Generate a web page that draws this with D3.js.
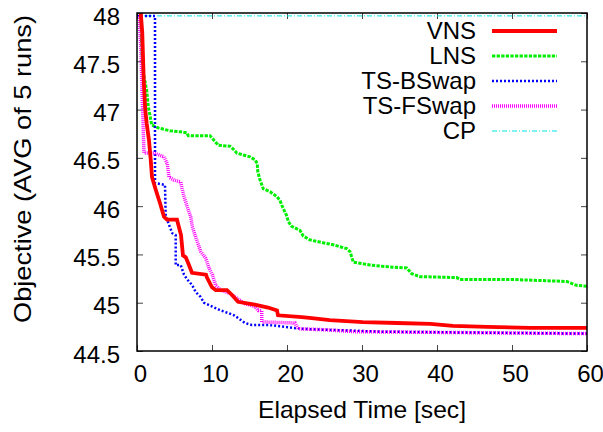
<!DOCTYPE html>
<html>
<head>
<meta charset="utf-8">
<script src="https://cdn.jsdelivr.net/npm/d3@7"></script>
<style>
  body { margin: 0; background: #fff; }
  text { font-family: "Liberation Sans", Arial, sans-serif; fill: #000; }
</style>
</head>
<body>
<svg id="chart" width="603" height="432"></svg>
<script>
// data: [elapsed seconds, objective]
const seriesNames = ["VNS", "LNS", "TS-BSwap", "TS-FSwap", "CP"];
const xTicks = [0, 10, 20, 30, 40, 50, 60];
const yTicks = [44.5, 45, 45.5, 46, 46.5, 47, 47.5, 48];

const vns = [
  [0.5, 48], [0.7, 47.8], [0.9, 47.3], [1.1, 47.0], [1.3, 46.85], [1.6, 46.68],
  [1.83, 46.48], [2.0, 46.3], [2.5, 46.17], [3.07, 46.03], [3.6, 45.89], [4.0, 45.86],
  [5.33, 45.86], [5.87, 45.7], [6.13, 45.49], [6.5, 45.47], [6.93, 45.39], [7.33, 45.31],
  [9.2, 45.29], [9.33, 45.26], [10.0, 45.16], [10.5, 45.13], [12.0, 45.13], [12.67, 45.08],
  [13.47, 45.01], [15.7, 44.98], [17.47, 44.95], [18.67, 44.92], [18.8, 44.87], [22.0, 44.85],
  [23.3, 44.84], [25.7, 44.82], [30.1, 44.8], [34.7, 44.79], [39.1, 44.78], [42.1, 44.76],
  [46.7, 44.75], [52.4, 44.74], [60, 44.74]
];

const lns = [
  [0.5, 47.97], [0.63, 47.62], [0.84, 47.38], [1.29, 47.2], [1.51, 47.03], [1.73, 46.94],
  [1.96, 46.84], [2.84, 46.81], [4.4, 46.78], [5.73, 46.77], [6.63, 46.76], [6.84, 46.73],
  [9.73, 46.73], [10.17, 46.69], [10.84, 46.63], [12.4, 46.62], [12.84, 46.59], [13.3, 46.55],
  [14.17, 46.53], [15.07, 46.51], [15.73, 46.48], [16.04, 46.44], [16.1, 46.36], [16.4, 46.27],
  [16.84, 46.18], [17.73, 46.15], [18.63, 46.1], [19.07, 46.06], [19.3, 46.01], [19.96, 45.9],
  [20.17, 45.84], [20.63, 45.79], [21.73, 45.75], [22.17, 45.69], [23.07, 45.65], [24.84, 45.62],
  [26.17, 45.6], [27.96, 45.56], [28.4, 45.53], [28.84, 45.42], [31.07, 45.39], [33.73, 45.37],
  [35.96, 45.36], [36.63, 45.3], [37.73, 45.27], [42.63, 45.26], [43.07, 45.24], [50.17, 45.24],
  [57.3, 45.22], [58.6, 45.18], [60, 45.17]
];

const tsBSwap = [
  [0, 47.97], [2.4, 47.97], [2.4, 46.24], [3.73, 46.22], [3.83, 45.89], [4.0, 45.86],
  [4.7, 45.72], [5.16, 45.7], [5.16, 45.39], [5.83, 45.39], [6.27, 45.29], [6.71, 45.24],
  [7.37, 45.18], [7.83, 45.11], [8.49, 45.06], [8.93, 45.0], [10.04, 44.96], [11.16, 44.92],
  [12.27, 44.89], [12.93, 44.87], [13.5, 44.84], [14.4, 44.79], [15.3, 44.77], [17.5, 44.77],
  [19.7, 44.75], [21.96, 44.73], [25.07, 44.72], [29.07, 44.71], [32.4, 44.7], [60, 44.68]
];

const tsFSwap = [
  [0.27, 47.97], [0.53, 47.62], [0.67, 47.2], [0.8, 46.89], [0.93, 46.55], [2.27, 46.55],
  [3.6, 46.51], [4.04, 46.44], [4.27, 46.3], [4.93, 46.27], [5.83, 46.25], [6.04, 46.17],
  [6.27, 46.1], [6.71, 45.99], [7.16, 45.89], [7.37, 45.79], [7.87, 45.67], [8.49, 45.53],
  [9.16, 45.46], [9.6, 45.36], [10.04, 45.29], [10.49, 45.18], [11.16, 45.13], [12.27, 45.1],
  [13.07, 45.06], [14.4, 44.99], [15.73, 44.96], [16.17, 44.92], [16.63, 44.92], [16.63, 44.8],
  [17.07, 44.8], [21.07, 44.79], [21.5, 44.73], [25.07, 44.72], [29.07, 44.7], [60, 44.68]
];

const cp = [[0, 47.97], [60, 47.97]];

const seriesData = [vns, lns, tsBSwap, tsFSwap, cp];

// styles, gnuplot-ish
const styles = [
  { color: "#ff0000", width: 3.8, dash: null },
  { color: "#00ee00", width: 3, dash: "3.3,1.3" },
  { color: "#0000ff", width: 2.5, dash: "2,2" },
  { color: "#ff00ff", width: 3.5, dash: "1,1" },
  { color: "#00e5e5", width: 1, dash: "5,2,1,2" }
];

const svg = d3.select("#chart");
const plot = { left: 137, right: 587, top: 13, bottom: 351 };

const x = d3.scaleLinear().domain([0, 60]).range([plot.left, plot.right]);
const y = d3.scaleLinear().domain([44.5, 48]).range([plot.bottom, plot.top]);

svg.append("clipPath").attr("id", "clip")
  .append("rect")
  .attr("x", plot.left).attr("y", plot.top)
  .attr("width", plot.right - plot.left).attr("height", plot.bottom - plot.top);

// axes (inward ticks, mirrored on top/right)
const FONT = 24;
const yAxis = svg.append("g")
  .attr("transform", `translate(${plot.left},0)`)
  .call(d3.axisLeft(y).tickValues(yTicks).tickFormat((d) => d)
    .tickSizeInner(-6).tickSizeOuter(0).tickPadding(17));
yAxis.selectAll("text").attr("font-size", FONT).attr("dy", "0.38em")
  .attr("transform", "translate(0,2)");

const xAxis = svg.append("g")
  .attr("transform", `translate(0,${plot.bottom})`)
  .call(d3.axisBottom(x).tickValues(xTicks).tickFormat((d) => d)
    .tickSizeInner(-6).tickSizeOuter(0).tickPadding(14));
xAxis.selectAll("text").attr("font-size", FONT).attr("dx", 3);

svg.append("g")
  .attr("transform", `translate(${plot.right},0)`)
  .call(d3.axisRight(y).tickValues(yTicks).tickFormat("").tickSizeInner(-6).tickSizeOuter(0));
svg.append("g")
  .attr("transform", `translate(0,${plot.top})`)
  .call(d3.axisTop(x).tickValues(xTicks).tickFormat("").tickSizeInner(-6).tickSizeOuter(0));

svg.selectAll(".domain").remove();
svg.selectAll(".tick line").attr("stroke", "#444");

// series
const line = d3.line().x((d) => x(d[0])).y((d) => y(d[1]));
const lines = svg.append("g").attr("clip-path", "url(#clip)");

// draw CP first so the others sit over it
const order = [4, 1, 2, 3, 0];
order.forEach((i) => {
  lines.append("path")
    .datum(seriesData[i])
    .attr("fill", "none")
    .attr("stroke", styles[i].color)
    .attr("stroke-width", styles[i].width)
    .attr("stroke-dasharray", styles[i].dash)
    .attr("d", line);
});

// border
svg.append("rect")
  .attr("x", plot.left).attr("y", plot.top)
  .attr("width", plot.right - plot.left).attr("height", plot.bottom - plot.top)
  .attr("fill", "none").attr("stroke", "#000").attr("stroke-width", 1.5);

// legend
const legend = svg.append("g");
seriesNames.forEach((name, i) => {
  const cy = 31 + i * 25;
  legend.append("text")
    .attr("x", 476).attr("y", cy + 8)
    .attr("text-anchor", "end")
    .attr("font-size", FONT)
    .text(name);
  legend.append("line")
    .attr("x1", 492).attr("x2", 557)
    .attr("y1", cy).attr("y2", cy)
    .attr("stroke", styles[i].color)
    .attr("stroke-width", styles[i].width)
    .attr("stroke-dasharray", styles[i].dash);
});

// axis titles
svg.append("text")
  .attr("x", 362).attr("y", 418)
  .attr("text-anchor", "middle")
  .attr("font-size", FONT)
  .attr("textLength", 208)
  .attr("lengthAdjust", "spacingAndGlyphs")
  .text("Elapsed Time [sec]");

svg.append("text")
  .attr("transform", "translate(31,169) rotate(-90)")
  .attr("text-anchor", "middle")
  .attr("font-size", FONT)
  .attr("textLength", 308)
  .attr("lengthAdjust", "spacingAndGlyphs")
  .text("Objective (AVG of 5 runs)");
</script>
</body>
</html>
